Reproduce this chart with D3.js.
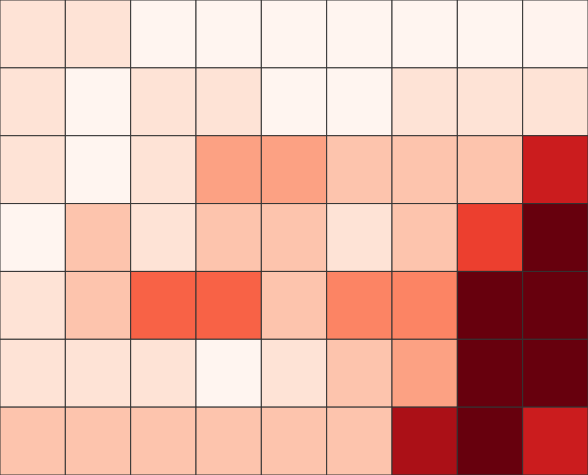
<!DOCTYPE html>
<html>
<head>
<meta charset="utf-8">
<script src="https://cdn.jsdelivr.net/npm/d3@7"></script>
<style>
html,body{margin:0;padding:0;background:#fff;}
svg{display:block;}
</style>
</head>
<body>
<svg id="chart" width="588" height="475"></svg>
<script>
const columns = ["c1","c2","c3","c4","c5","c6","c7","c8","c9"];
const rows = ["r1","r2","r3","r4","r5","r6","r7"];
const row1 = [10, 10, 0, 0, 0, 0, 0, 0, 1];
const row2 = [10, 0, 10, 10, 0, 0, 10, 10, 10];
const row3 = [10, 0, 10, 33, 33, 22, 22, 22, 75];
const row4 = [0, 22, 10, 22, 22, 10, 22, 62, 100];
const row5 = [10, 22, 52, 52, 22, 42, 42, 100, 100];
const row6 = [10, 10, 10, 0, 10, 22, 33, 100, 100];
const row7 = [22, 22, 22, 22, 22, 22, 85, 100, 75];
const matrix = [row1, row2, row3, row4, row5, row6, row7];

const W = 588, H = 475;
const svg = d3.select("#chart");
const x = d3.scaleBand().domain(columns).range([0, W]);
const y = d3.scaleBand().domain(rows).range([0, H]);
const color = d3.scaleSequential(d3.interpolateReds).domain([0, 100]);

const cells = [];
matrix.forEach((vals, ri) => vals.forEach((v, ci) => cells.push({r: rows[ri], c: columns[ci], v})));

svg.selectAll("rect").data(cells).join("rect")
  .attr("x", d => x(d.c))
  .attr("y", d => y(d.r))
  .attr("width", x.bandwidth())
  .attr("height", y.bandwidth())
  .attr("fill", d => color(d.v))
  .attr("stroke", "#333")
  .attr("stroke-width", 1);
</script>
</body>
</html>
